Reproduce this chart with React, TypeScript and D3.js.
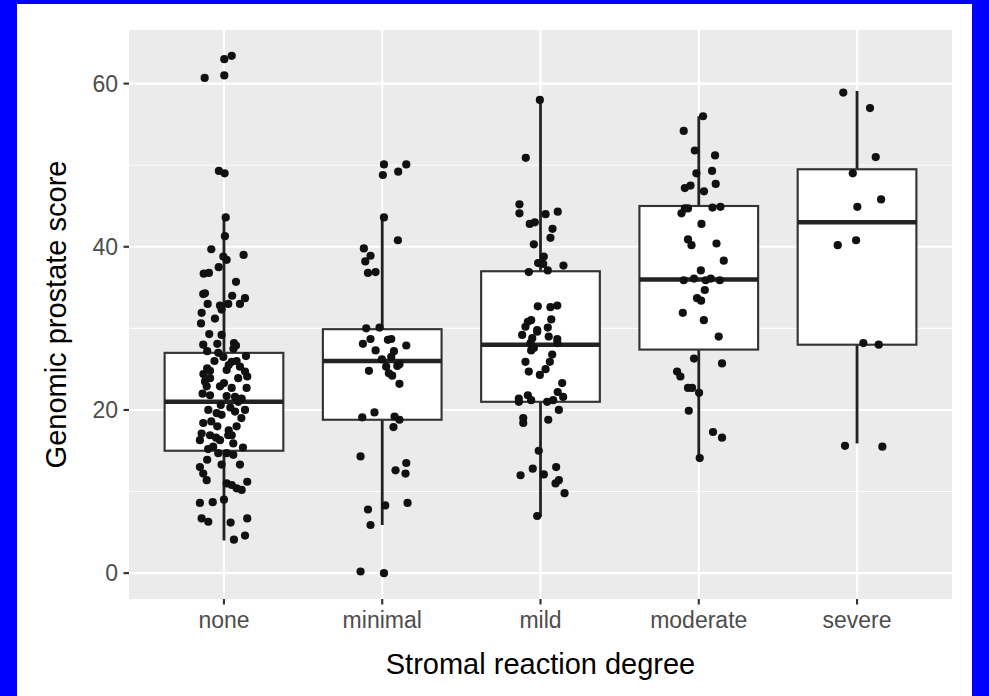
import React from "react";
import * as d3 from "d3";

const categories = ["none", "minimal", "mild", "moderate", "severe"];
const q1 = [15.0, 18.8, 21.0, 27.4, 28.0];
const medians = [21.0, 26.0, 28.0, 36.0, 43.0];
const q3 = [27.0, 29.9, 37.0, 45.0, 49.5];
const whiskerLow = [4.0, 5.9, 6.9, 14.1, 15.9];
const whiskerHigh = [43.6, 43.6, 58.0, 56.0, 59.1];
const yTicks = [0, 20, 40, 60];
const yMinorTicks = [10, 30, 50];
const xTitle = "Stromal reaction degree";
const yTitle = "Genomic prostate score";

// [jitter (fraction of category step), score]
const nonePoints: [number, number][] = [
  [0.049, 63.4], [0.002, 63.0], [-0.122, 60.7], [0.002, 61.0], [-0.032, 49.3], [0.004, 49.0],
  [0.011, 43.6], [0.006, 41.3], [-0.08, 39.7], [0.124, 39.0], [-0.004, 38.8], [0.017, 38.4],
  [-0.033, 37.5], [-0.128, 36.7], [-0.095, 36.8], [0.076, 35.7], [-0.131, 34.2], [-0.12, 34.3],
  [0.052, 34.0], [0.133, 33.7], [-0.103, 33.0], [-0.025, 32.8], [0.027, 33.0], [0.101, 33.0],
  [-0.141, 31.9], [-0.057, 31.2], [-0.015, 32.3], [-0.145, 30.6], [-0.015, 29.2], [-0.093, 29.3],
  [-0.131, 28.0], [-0.042, 28.1], [0.063, 28.2], [0.076, 27.9], [-0.106, 27.2], [-0.036, 27.0],
  [0.139, 26.6], [-0.004, 26.5], [0.08, 26.0], [0.049, 25.9], [-0.106, 25.1], [-0.088, 24.8],
  [0.017, 24.9], [0.101, 25.3], [0.133, 24.7], [-0.088, 23.9], [0.09, 23.9], [0.147, 24.1],
  [-0.025, 22.9], [0.049, 22.7], [0.143, 22.7], [-0.109, 22.9], [-0.135, 22.0], [-0.088, 21.8],
  [0.017, 21.7], [0.07, 21.6], [0.112, 21.4], [-0.099, 20.0], [-0.046, 19.6], [-0.015, 19.4],
  [0.07, 19.8], [0.133, 20.0], [-0.131, 18.4], [-0.042, 18.0], [0.08, 18.0], [-0.141, 17.1],
  [-0.088, 16.9], [-0.152, 16.3], [0.027, 16.9], [0.049, 16.9], [-0.025, 16.3], [0.059, 15.9],
  [-0.068, 15.5], [-0.036, 14.7], [0.017, 14.7], [0.059, 14.5], [-0.106, 13.9], [-0.015, 13.3],
  [0.101, 13.3], [-0.152, 13.0], [-0.131, 12.2], [-0.109, 11.4], [0.017, 11.0], [0.049, 10.8],
  [0.08, 10.4], [0.112, 10.2], [0.147, 11.2], [-0.152, 8.6], [-0.071, 8.7], [0.0, 9.0],
  [-0.141, 6.7], [-0.099, 6.3], [0.042, 6.2], [0.147, 6.7], [0.063, 4.1], [0.133, 4.6],
  [-0.06, 26.0], [0.03, 25.5], [-0.12, 23.5], [0.0, 23.3], [0.09, 21.0], [-0.02, 20.6],
  [0.11, 19.0], [-0.08, 18.6], [0.03, 17.5], [-0.05, 16.6], [0.12, 15.4], [-0.1, 15.2],
  [0.04, 20.3], [-0.13, 24.4], [0.06, 27.5],
];
const minimalPoints: [number, number][] = [
  [0.011, 50.1], [0.152, 50.1], [0.004, 48.8], [0.101, 49.2], [0.011, 43.6], [0.099, 40.8],
  [-0.116, 39.8], [-0.074, 38.9], [-0.107, 38.2], [-0.09, 36.8], [-0.042, 36.9], [-0.101, 30.0],
  [-0.017, 30.1], [-0.074, 28.7], [-0.122, 28.1], [0.036, 28.6], [0.057, 28.7], [0.152, 27.9],
  [-0.042, 27.3], [0.074, 27.2], [-0.002, 26.2], [0.057, 26.5], [0.025, 25.3], [0.095, 25.4],
  [0.109, 25.6], [-0.084, 24.8], [0.042, 24.5], [0.063, 24.2], [0.109, 23.2], [-0.126, 19.1],
  [-0.049, 19.7], [0.078, 19.2], [0.109, 18.8], [0.071, 17.9], [-0.137, 14.3], [0.152, 13.5],
  [0.084, 12.6], [0.147, 12.2], [-0.09, 7.8], [0.019, 8.3], [0.16, 8.6], [-0.074, 5.9],
  [-0.137, 0.2], [0.011, 0.0],
];
const mildPoints: [number, number][] = [
  [-0.004, 58.0], [-0.093, 50.9], [-0.133, 45.2], [-0.133, 44.1], [0.032, 44.0], [0.109, 44.3],
  [-0.068, 42.8], [-0.036, 43.0], [0.076, 42.2], [0.063, 41.1], [-0.042, 40.3], [0.021, 38.8],
  [-0.015, 38.0], [0.017, 37.9], [0.145, 37.7], [-0.074, 36.9], [0.046, 37.1], [-0.017, 32.7],
  [0.063, 32.6], [0.106, 32.8], [-0.08, 30.8], [-0.059, 31.0], [0.068, 31.1], [-0.095, 30.2],
  [-0.021, 29.8], [0.046, 30.1], [-0.116, 29.2], [-0.052, 28.8], [0.052, 29.0], [0.106, 28.7],
  [-0.021, 29.6], [-0.063, 28.2], [-0.042, 27.6], [-0.059, 27.3], [0.106, 28.2], [0.074, 26.8],
  [-0.095, 25.9], [0.059, 25.9], [0.032, 25.0], [-0.074, 24.7], [-0.004, 24.3], [0.137, 23.3],
  [0.109, 22.2], [0.143, 21.6], [-0.137, 21.4], [-0.137, 21.0], [-0.08, 21.8], [-0.059, 21.2],
  [0.042, 21.0], [0.08, 21.2], [0.116, 20.0], [-0.109, 19.0], [-0.109, 18.4], [0.049, 18.8],
  [-0.011, 15.0], [-0.049, 12.8], [0.099, 13.0], [-0.126, 12.0], [0.021, 12.1], [0.095, 11.0],
  [0.116, 11.4], [0.152, 9.8], [-0.021, 7.0],
];
const moderatePoints: [number, number][] = [
  [0.027, 56.0], [-0.095, 54.2], [-0.025, 51.8], [0.103, 51.2], [0.084, 49.3], [-0.015, 49.0],
  [0.107, 47.7], [-0.088, 47.2], [-0.052, 47.5], [0.033, 46.8], [-0.109, 44.1], [-0.088, 44.7],
  [-0.068, 44.7], [0.087, 44.8], [0.137, 44.9], [0.017, 42.8], [-0.068, 40.9], [-0.046, 40.2],
  [0.112, 40.4], [0.158, 38.3], [0.013, 37.1], [-0.095, 35.9], [-0.03, 36.1], [0.044, 35.9],
  [0.076, 36.1], [0.133, 35.9], [0.038, 34.7], [-0.011, 33.7], [0.015, 33.4], [-0.101, 31.9],
  [0.032, 31.0], [0.126, 29.0], [-0.03, 26.3], [0.147, 25.7], [-0.137, 24.7], [-0.116, 24.1],
  [-0.068, 22.7], [-0.042, 22.7], [0.002, 22.1], [-0.063, 19.9], [0.09, 17.3], [0.147, 16.6],
  [0.006, 14.1],
];
const severePoints: [number, number][] = [
  [-0.087, 58.9], [0.082, 57.0], [0.118, 51.0], [-0.027, 49.0], [0.152, 45.8], [0.002, 44.9],
  [-0.122, 40.2], [-0.006, 40.8], [0.04, 28.2], [0.137, 28.0], [-0.076, 15.6], [0.16, 15.5],
];
const pointsByCategory = [nonePoints, minimalPoints, mildPoints, moderatePoints, severePoints];

const W = 989;
const H = 696;
const panel = { left: 129, right: 952, top: 30, bottom: 599 };
const FONT = "'Liberation Sans', Arial, Helvetica, sans-serif";

export default function App() {
  const x = d3
    .scalePoint<string>()
    .domain(categories)
    .range([panel.left, panel.right])
    .padding(0.6);
  const step = x.step();
  const y = d3.scaleLinear().domain([-3.17, 66.57]).range([panel.bottom, panel.top]);
  const boxW = step * 0.75;

  return (
    <svg
      width={W}
      height={H}
      style={{ position: "absolute", left: 0, top: 0, display: "block" }}
      fontFamily={FONT}
    >
      <rect x={0} y={0} width={W} height={H} fill="#0000ff" />
      <rect x={17} y={4} width={955} height={H - 4} fill="#ffffff" />
      <rect
        x={panel.left}
        y={panel.top}
        width={panel.right - panel.left}
        height={panel.bottom - panel.top}
        fill="#EBEBEB"
      />
      {yMinorTicks.map((t) => (
        <line key={"mn" + t} x1={panel.left} x2={panel.right} y1={y(t)} y2={y(t)} stroke="#fff" strokeWidth={1.07} />
      ))}
      {yTicks.map((t) => (
        <line key={"mj" + t} x1={panel.left} x2={panel.right} y1={y(t)} y2={y(t)} stroke="#fff" strokeWidth={2.13} />
      ))}
      {categories.map((c) => (
        <line key={"v" + c} x1={x(c)} x2={x(c)} y1={panel.top} y2={panel.bottom} stroke="#fff" strokeWidth={2.13} />
      ))}
      {categories.map((c, i) => {
        const cx = x(c)!;
        return (
          <g key={"box" + c}>
            <line x1={cx} x2={cx} y1={y(q3[i])} y2={y(whiskerHigh[i])} stroke="#222" strokeWidth={2.8} />
            <line x1={cx} x2={cx} y1={y(q1[i])} y2={y(whiskerLow[i])} stroke="#222" strokeWidth={2.8} />
            <rect
              x={cx - boxW / 2}
              y={y(q3[i])}
              width={boxW}
              height={y(q1[i]) - y(q3[i])}
              fill="#fff"
              stroke="#333"
              strokeWidth={2.13}
            />
            <line x1={cx - boxW / 2} x2={cx + boxW / 2} y1={y(medians[i])} y2={y(medians[i])} stroke="#222" strokeWidth={4.5} />
          </g>
        );
      })}
      {categories.map((c, i) => (
        <g key={"pts" + c}>
          {pointsByCategory[i].map(([dx, v], j) => (
            <circle key={j} cx={x(c)! + dx * step} cy={y(v)} r={4.1} fill="#111" />
          ))}
        </g>
      ))}
      {yTicks.map((t) => (
        <g key={"yt" + t}>
          <line x1={panel.left - 5.5} x2={panel.left} y1={y(t)} y2={y(t)} stroke="#333" strokeWidth={2.13} />
          <text x={panel.left - 11} y={y(t)} dy="0.35em" textAnchor="end" fontSize={23} fill="#4D4D4D">
            {t}
          </text>
        </g>
      ))}
      {categories.map((c) => (
        <g key={"xt" + c}>
          <line x1={x(c)} x2={x(c)} y1={panel.bottom} y2={panel.bottom + 5.5} stroke="#333" strokeWidth={2.13} />
          <text x={x(c)} y={628} textAnchor="middle" fontSize={23} fill="#4D4D4D">
            {c}
          </text>
        </g>
      ))}
      <text x={(panel.left + panel.right) / 2} y={674} textAnchor="middle" fontSize={29} fill="#000">
        {xTitle}
      </text>
      <text
        transform={`translate(66, ${(panel.top + panel.bottom) / 2}) rotate(-90)`}
        textAnchor="middle"
        fontSize={29}
        fill="#000"
      >
        {yTitle}
      </text>
    </svg>
  );
}
